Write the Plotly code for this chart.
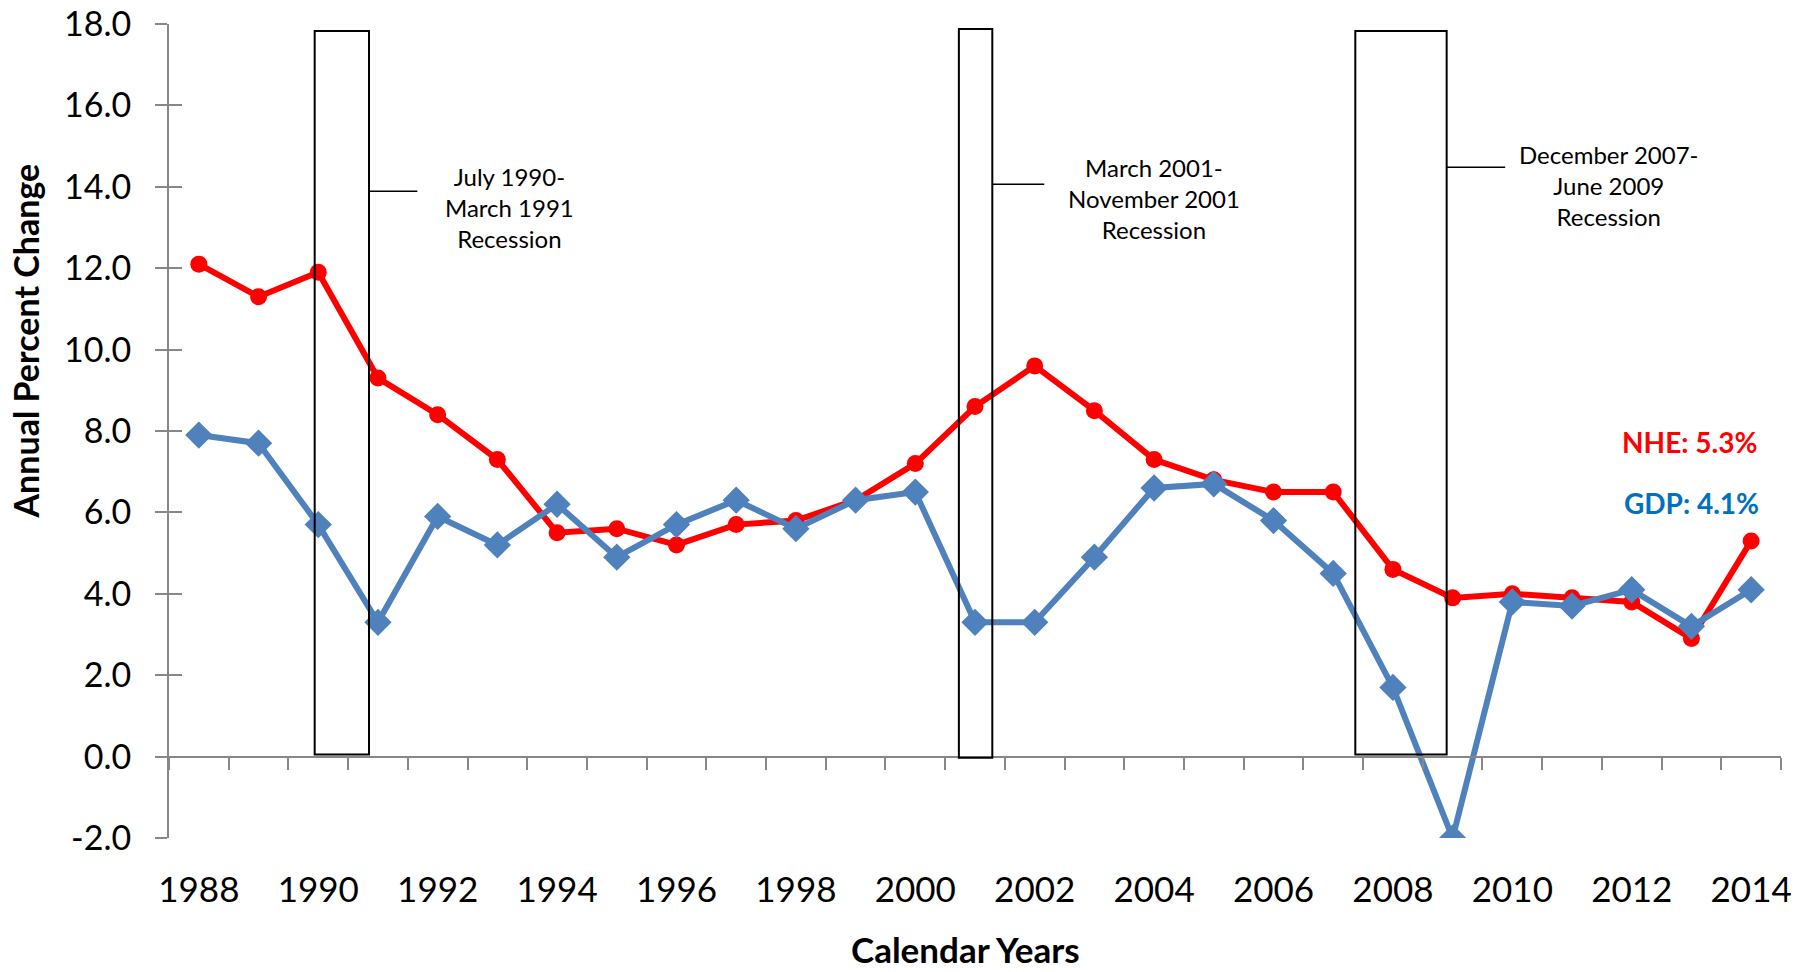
import plotly.graph_objects as go

years = list(range(1988, 2015))
nhe = [12.1, 11.3, 11.9, 9.3, 8.4, 7.3, 5.5, 5.6, 5.2, 5.7, 5.8, 6.3, 7.2,
       8.6, 9.6, 8.5, 7.3, 6.8, 6.5, 6.5, 4.6, 3.9, 4.0, 3.9, 3.8, 2.9, 5.3]
gdp = [7.9, 7.7, 5.7, 3.3, 5.9, 5.2, 6.2, 4.9, 5.7, 6.3, 5.6, 6.3, 6.5,
       3.3, 3.3, 4.9, 6.6, 6.7, 5.8, 4.5, 1.7, -2.0, 3.8, 3.7, 4.1, 3.2, 4.1]

y_ticks = [-2, 0, 2, 4, 6, 8, 10, 12, 14, 16, 18]
y_tick_text = ["%.1f" % v for v in y_ticks]
x_label_years = list(range(1988, 2015, 2))

# recession boxes (as drawn, in year units) and their labels
rec_x0 = [1989.94, 2000.73, 2007.37]
rec_x1 = [1990.85, 2001.29, 2008.90]
rec_top = [17.83, 17.88, 17.83]
rec_bottom = [0.05, -0.03, 0.05]
conn_end = [1991.66, 2002.16, 2009.88]
conn_y = [13.89, 14.06, 14.48]
rec_text = ["July 1990-<br>March 1991<br>Recession",
            "March 2001-<br>November 2001<br>Recession",
            "December 2007-<br>June 2009<br>Recession"]
rec_text_x = [1993.2, 2004.0, 2011.62]
rec_text_y = [13.49, 13.72, 14.03]

RED = "#FF0000"
BLUE = "#4F81BD"
GRAY = "#878787"
FONT = "Lato"

fig = go.Figure()
fig.add_trace(go.Scatter(x=years, y=nhe, mode="lines+markers", name="NHE",
                         line=dict(color=RED, width=6),
                         marker=dict(symbol="circle", size=17, color=RED)))
fig.add_trace(go.Scatter(x=years, y=gdp, mode="lines+markers", name="GDP",
                         line=dict(color=BLUE, width=6),
                         marker=dict(symbol="diamond", size=21, color=BLUE)))
# helper trace so that secondary (label / cross-tick) axes are drawn
fig.add_trace(go.Scatter(x=years, y=gdp, xaxis="x2", yaxis="y2", mode="lines",
                         line=dict(width=0), opacity=0, hoverinfo="skip",
                         showlegend=False))

shapes = []
for i in range(len(rec_x0)):
    shapes.append(dict(type="rect", xref="x", yref="y", x0=rec_x0[i], x1=rec_x1[i],
                       y0=rec_bottom[i], y1=rec_top[i],
                       line=dict(color="black", width=2), fillcolor="rgba(0,0,0,0)",
                       layer="above"))
    shapes.append(dict(type="line", xref="x", yref="y", x0=rec_x1[i], x1=conn_end[i],
                       y0=conn_y[i], y1=conn_y[i],
                       line=dict(color="black", width=1.5), layer="above"))

annotations = []
for i in range(len(rec_text)):
    annotations.append(dict(x=rec_text_x[i], y=rec_text_y[i], xref="x", yref="y",
                            text=rec_text[i], showarrow=False, align="center",
                            font=dict(family=FONT, size=24, color="black")))
annotations.append(dict(x=2012.97, y=7.74, xref="x", yref="y",
                        text="<b>NHE: 5.3%</b>", showarrow=False,
                        font=dict(family=FONT, size=28, color=RED)))
annotations.append(dict(x=2013.0, y=6.24, xref="x", yref="y",
                        text="<b>GDP: 4.1%</b>", showarrow=False,
                        font=dict(family=FONT, size=28, color="#0070C0")))
annotations.append(dict(x=0, y=0.61, xref="paper", yref="paper", xshift=-144,
                        text="<b>Annual Percent Change</b>", textangle=-90,
                        showarrow=False, xanchor="center", yanchor="middle",
                        font=dict(family=FONT, size=34, color="black")))
annotations.append(dict(x=0.494, y=-0.136, xref="paper", yref="paper",
                        text="<b>Calendar Years</b>", showarrow=False,
                        xanchor="center", yanchor="middle",
                        font=dict(family=FONT, size=35, color="black")))

bounds = [y - 0.5 for y in years] + [years[-1] + 0.5]

fig.update_layout(
    template="none",
    width=1808, height=972,
    margin=dict(l=169, r=27, t=24, b=134),
    paper_bgcolor="white", plot_bgcolor="white",
    showlegend=False,
    shapes=shapes, annotations=annotations,
    font=dict(family=FONT, color="black"),
    xaxis=dict(range=[1987.5, 2014.5], anchor="free", position=0.1, automargin=False,
               showline=True, linecolor=GRAY, linewidth=2,
               tickvals=bounds, ticks="outside", ticklen=12, tickwidth=2,
               tickcolor=GRAY, showticklabels=False, showgrid=False, zeroline=False),
    xaxis2=dict(range=[1987.5, 2014.5], overlaying="x", anchor="y", side="bottom",
                automargin=False,
                tickvals=x_label_years, ticktext=[str(v) for v in x_label_years],
                ticks="", showline=False, showgrid=False, zeroline=False,
                ticklabelstandoff=28,
                tickfont=dict(family=FONT, size=35, color="black")),
    yaxis=dict(range=[-2, 18], tickvals=y_ticks, ticktext=y_tick_text, automargin=False,
               showline=True, linecolor=GRAY, linewidth=2,
               ticks="outside", ticklen=12, tickwidth=2, tickcolor=GRAY,
               showgrid=False, zeroline=False, ticklabelstandoff=17,
               tickfont=dict(family=FONT, size=34, color="black")),
    yaxis2=dict(range=[-2, 18], overlaying="y", anchor="x", side="left",
                automargin=False,
                tickvals=y_ticks, ticks="inside", ticklen=13, tickwidth=2,
                tickcolor=GRAY, showticklabels=False, showline=False,
                showgrid=False, zeroline=False),
)

fig.write_html("out.html", config={"displayModeBar": False},
               post_script="document.body.style.margin='0';"
                           "document.documentElement.style.overflow='hidden';")
